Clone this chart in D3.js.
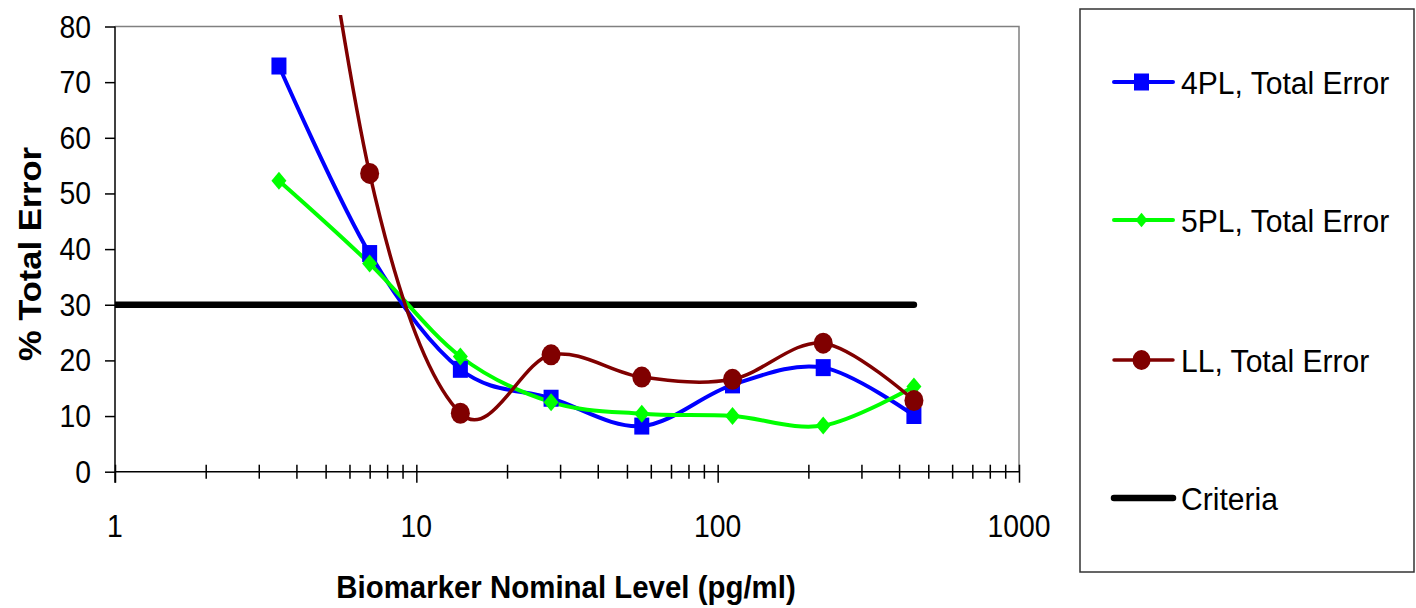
<!DOCTYPE html>
<html>
<head>
<meta charset="utf-8">
<script src="https://cdn.jsdelivr.net/npm/d3@7"></script>
<style>
  html, body { margin: 0; padding: 0; background: #fff; }
  svg { display: block; }
  text { font-family: "Liberation Sans", Arial, sans-serif; fill: #000; }
</style>
</head>
<body>
<svg id="chart" width="1416" height="608"></svg>
<script>
// ---- Data ----
const levels = [3.5, 7, 14, 28, 56, 112, 224, 448];
const pl4 = [72.9, 39.2, 18.4, 13.2, 8.2, 15.6, 18.7, 10.1];
const pl5 = [52.3, 37.4, 20.7, 12.5, 10.4, 10.0, 8.3, 15.3];
const ll  = [155, 53.6, 10.5, 21.0, 17.0, 16.6, 23.1, 12.8];
const criteriaX = [1, 448];
const criteriaY = [30, 30];
const yTicks = [0, 10, 20, 30, 40, 50, 60, 70, 80];
const xMajor = [1, 10, 100, 1000];
const xMinor = [2,3,4,5,6,7,8,9,20,30,40,50,60,70,80,90,200,300,400,500,600,700,800,900];
const seriesNames = ["4PL, Total Error", "5PL, Total Error", "LL, Total Error", "Criteria"];

const svg = d3.select("#chart");
const SX = 0.9; // horizontal squeeze of glyphs

const x = d3.scaleLog().domain([1, 1000]).range([115, 1019]);
const y = d3.scaleLinear().domain([0, 80]).range([471.7, 26.5]);

// plot area border (top/right grey)
svg.append("path")
  .attr("d", `M${x(1)},${y(80)}H${x(1000)}V${y(0)}`)
  .attr("fill", "none").attr("stroke", "#808080").attr("stroke-width", 1.5);

// clip
svg.append("defs").append("clipPath").attr("id", "clip")
  .append("rect").attr("x", x(1)).attr("y", 15).attr("width", x(1000) - x(1)).attr("height", y(0) - 15);

// Y axis
const yAxis = svg.append("g").attr("transform", `translate(${x(1)},0)`)
  .call(d3.axisLeft(y).tickValues(yTicks).tickSize(10).tickFormat(""));
yAxis.select(".domain").attr("stroke", "#000").attr("stroke-width", 1.5).attr("d", `M0,${y(0) + 11}V${y(80)}`);
yAxis.selectAll(".tick line").attr("stroke", "#000").attr("stroke-width", 1.5);

// X axis
const xAxisMinor = svg.append("g").attr("transform", `translate(0,${y(0)})`)
  .call(d3.axisBottom(x).tickValues(xMinor).tickSize(7).tickFormat(""));
xAxisMinor.select(".domain").remove();
xAxisMinor.selectAll(".tick line").attr("y1", -7).attr("y2", 7).attr("stroke", "#000").attr("stroke-width", 1.5);

const xAxis = svg.append("g").attr("transform", `translate(0,${y(0)})`)
  .call(d3.axisBottom(x).tickValues(xMajor).tickSize(11).tickFormat(""));
xAxis.select(".domain").attr("stroke", "#000").attr("stroke-width", 1.5).attr("d", `M${x(1)},0H${x(1000)}`);
xAxis.selectAll(".tick line").attr("y1", -7).attr("y2", 11).attr("stroke", "#000").attr("stroke-width", 1.5);

// tick labels
svg.append("g").selectAll("text").data(yTicks).join("text")
  .attr("transform", d => `translate(91,${y(d) + 11}) scale(${SX},1)`)
  .attr("text-anchor", "end").attr("font-size", 31.5)
  .text(d => d);

svg.append("g").selectAll("text").data(xMajor).join("text")
  .attr("transform", d => `translate(${x(d)},537) scale(${SX},1)`)
  .attr("text-anchor", "middle").attr("font-size", 31.5)
  .text(d => d);

// axis titles
svg.append("text")
  .attr("transform", `translate(566,597.5) scale(0.92,1)`)
  .attr("text-anchor", "middle").attr("font-size", 32).attr("font-weight", "bold")
  .text("Biomarker Nominal Level (pg/ml)");

svg.append("text")
  .attr("transform", `translate(41,254) rotate(-90) scale(1,0.92)`)
  .attr("text-anchor", "middle").attr("font-size", 34.5).attr("font-weight", "bold")
  .text("% Total Error");

// series
const line = d3.line().x(d => x(d[0])).y(d => y(d[1])).curve(d3.curveCardinal.tension(0));
const plot = svg.append("g").attr("clip-path", "url(#clip)");

const series = [
  { vals: pl4, color: "#0000FF", width: 4, marker: "square" },
  { vals: pl5, color: "#00FF00", width: 4, marker: "diamond" },
  { vals: ll,  color: "#800000", width: 3.5, marker: "circle" }
];

// criteria
plot.append("path")
  .datum(criteriaX.map((v, i) => [v, criteriaY[i]]))
  .attr("d", d3.line().x(d => x(d[0])).y(d => y(d[1])))
  .attr("fill", "none").attr("stroke", "#000").attr("stroke-width", 6.5).attr("stroke-linecap", "round");

function drawMarker(g, type, cx, cy, color, s) {
  s = s || 1;
  if (type === "square") {
    g.append("rect").attr("x", cx - 7.5 * s).attr("y", cy - 8.5 * s)
      .attr("width", 15 * s).attr("height", 17 * s).attr("fill", color);
  } else if (type === "diamond") {
    g.append("path")
      .attr("d", `M${cx},${cy - 9 * s}L${cx + 7.5 * s},${cy}L${cx},${cy + 9 * s}L${cx - 7.5 * s},${cy}Z`)
      .attr("fill", color);
  } else {
    g.append("ellipse").attr("cx", cx).attr("cy", cy).attr("rx", 9.5 * s).attr("ry", 10.5 * s).attr("fill", color);
  }
}

series.forEach(s => {
  const pts = levels.map((l, i) => [l, s.vals[i]]);
  plot.append("path").datum(pts).attr("d", line)
    .attr("fill", "none").attr("stroke", s.color).attr("stroke-width", s.width)
    .attr("stroke-linejoin", "round");
});
series.forEach(s => {
  const g = plot.append("g");
  levels.forEach((l, i) => {
    if (s.vals[i] <= 80) drawMarker(g, s.marker, x(l), y(s.vals[i]), s.color);
  });
});

// legend
const lg = svg.append("g");
lg.append("rect").attr("x", 1080).attr("y", 9).attr("width", 334).attr("height", 563)
  .attr("fill", "#fff").attr("stroke", "#333").attr("stroke-width", 1.5);
const legendY = [82, 220, 360, 498];
const legendItems = [
  { color: "#0000FF", width: 4, marker: "square" },
  { color: "#00FF00", width: 4, marker: "diamond" },
  { color: "#800000", width: 3.5, marker: "circle" },
  { color: "#000", width: 6.5, marker: null }
];
legendItems.forEach((it, i) => {
  const cy = legendY[i];
  lg.append("line").attr("x1", 1114).attr("x2", 1173).attr("y1", cy).attr("y2", cy)
    .attr("stroke", it.color).attr("stroke-width", it.width).attr("stroke-linecap", "round");
  if (it.marker) {
    const g = lg.append("g");
    if (it.marker === "square") drawMarker(g, "square", 1141.5, cy, it.color, 1);
    else if (it.marker === "diamond") drawMarker(g, "diamond", 1141.5, cy, it.color, 0.8);
    else drawMarker(g, "circle", 1141.5, cy, it.color, 0.95);
  }
  lg.append("text")
    .attr("transform", `translate(1181,${cy + 11.5}) scale(0.955,1)`)
    .attr("font-size", 31.5)
    .text(seriesNames[i]);
});
</script>
</body>
</html>
